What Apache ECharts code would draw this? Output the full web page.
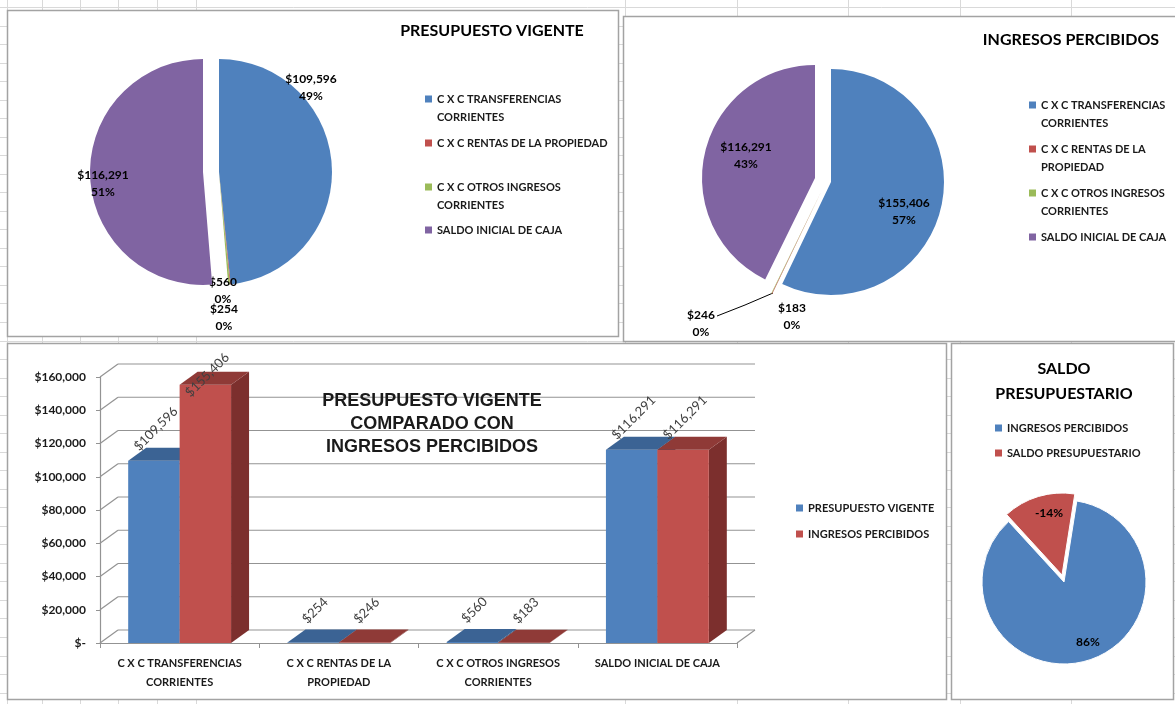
<!DOCTYPE html>
<html><head><meta charset="utf-8">
<script src="https://cdn.jsdelivr.net/npm/echarts@6/dist/echarts.min.js"></script>
<style>html,body{margin:0;padding:0;background:#fff;}#c{width:1175px;height:704px;}</style>
</head><body><div id="c"></div>
<script>
// ---------- DATA ----------
const categories = ['C X C TRANSFERENCIAS CORRIENTES', 'C X C RENTAS DE LA PROPIEDAD', 'C X C OTROS INGRESOS CORRIENTES', 'SALDO INICIAL DE CAJA'];
const categoryLabels = ['C X C TRANSFERENCIAS\nCORRIENTES', 'C X C RENTAS DE LA\nPROPIEDAD', 'C X C OTROS INGRESOS\nCORRIENTES', 'SALDO INICIAL DE CAJA'];
const legendLabelsPie1 = ['C X C TRANSFERENCIAS\nCORRIENTES', 'C X C RENTAS DE LA PROPIEDAD', 'C X C OTROS INGRESOS\nCORRIENTES', 'SALDO INICIAL DE CAJA'];
const legendLabelsPie2 = ['C X C TRANSFERENCIAS\nCORRIENTES', 'C X C RENTAS DE LA\nPROPIEDAD', 'C X C OTROS INGRESOS\nCORRIENTES', 'SALDO INICIAL DE CAJA'];
const presupuestoVigente = [109596, 254, 560, 116291];
const ingresosPercibidos = [155406, 246, 183, 116291];
const saldoNames = ['INGRESOS PERCIBIDOS', 'SALDO PRESUPUESTARIO'];
const saldoValues = [272126, -45425];
const barSeriesNames = ['PRESUPUESTO VIGENTE', 'INGRESOS PERCIBIDOS'];
const yTicks = [0, 20000, 40000, 60000, 80000, 100000, 120000, 140000, 160000];

// ---------- STYLE ----------
const F = "Lato,'Liberation Sans Narrow','DejaVu Sans Condensed',sans-serif";
const FA = "'Liberation Sans',Arial,sans-serif";
const FL = "Lato,'Open Sans',sans-serif";
const PIE_COLORS = ['#4F81BD', '#C0504D', '#9BBB59', '#8064A2'];
const BLUE = {front: '#4F81BD', top: '#3B6394', side: '#2E4E75'};
const RED = {front: '#C0504D', top: '#8F3A37', side: '#7C2F2D'};
const GRID = '#939393';
const DX = 18, DY = -13, BARW = 0.323;
const TXT = '#1a1a1a';
const fmt = v => Math.abs(v).toLocaleString('en-US');

const pie1LabelPos = [[311, 88], [224, 318], [223, 291], [103, 184]];
const pie2LabelPos = [[904, 212], [701, 324], [792, 317], [746, 156]];
const pie4LabelPos = [[1088, 642], [1049, 513]];

const chart = echarts.init(document.getElementById('c'));

// sheet background
const bg = [];
[7, 42, 80, 118, 157, 196, 625, 737, 848, 960, 1071].forEach(x => bg.push({type: 'line', z: -20, silent: true, shape: {x1: x + 0.5, y1: 0, x2: x + 0.5, y2: 704}, style: {stroke: '#d9d9d9', lineWidth: 1}}));
for (let k = 0; k < 40; k++) { const y = Math.round(7 + 18.53 * k) + 0.5; bg.push({type: 'line', z: -20, silent: true, shape: {x1: 0, y1: y, x2: 1175, y2: y}, style: {stroke: '#d9d9d9', lineWidth: 1}}); }
const panels = [[7, 10, 611, 326], [623, 16, 560, 325], [7, 343, 939, 356], [951, 343, 222, 356]];
panels.forEach(p => bg.push({type: 'rect', z: -10, silent: true, shape: {x: p[0] + 0.5, y: p[1] + 0.5, width: p[2], height: p[3]}, style: {fill: '#fff', stroke: '#a3a3a3', lineWidth: 1.5}}));

function legendItem(name, label, left, top, twoLine, color) {
  return {
    data: [{name: name, itemStyle: {color: color}}], left: left, top: top, orient: 'vertical', padding: 0,
    itemWidth: 7, itemHeight: twoLine ? 25 : 7,
    icon: twoLine ? 'path://M0,0L7,0L7,7L0,7ZM0,25' : 'rect',
    formatter: () => label,
    selectedMode: false,
    textStyle: {fontFamily: F, fontWeight: 'bold', fontSize: 11, lineHeight: 18, color: TXT}
  };
}
const legends = [];
const p1Tops = [90, 134, 178, 221];
const p2Tops = [96, 140, 184, 228];
categories.forEach((c, i) => {
  legends.push(legendItem(c, legendLabelsPie1[i], 425, p1Tops[i], legendLabelsPie1[i].indexOf('\n') >= 0, PIE_COLORS[i]));
  legends.push(legendItem(c, legendLabelsPie2[i], 1029, p2Tops[i], legendLabelsPie2[i].indexOf('\n') >= 0, PIE_COLORS[i]));
});
legends.push(legendItem(barSeriesNames[0], barSeriesNames[0], 796, 499, false, BLUE.front));
legends.push(legendItem(barSeriesNames[1], barSeriesNames[1], 796, 525, false, RED.front));
legends.push(legendItem(saldoNames[0], saldoNames[0], 995, 419, false, PIE_COLORS[0]));
legends.push(legendItem(saldoNames[1], saldoNames[1], 995, 444, false, PIE_COLORS[1]));

const pieLabelStyle = {show: true, position: 'outside', color: '#000', fontFamily: F, fontWeight: 'bold', fontSize: 12, lineHeight: 17};

// an exploded pie = one pie series per offset group, each holding all values (same totals),
// with the slices of other groups left transparent
function explodedPie(cfg) {
  return cfg.groups.map((g, gi) => ({
    type: 'pie', name: cfg.name + '_' + gi,
    center: [cfg.center[0] + g.off[0], cfg.center[1] + g.off[1]],
    radius: cfg.radius, startAngle: cfg.startAngle, clockwise: true,
    percentPrecision: 0, avoidLabelOverlap: false, emphasis: {scale: false, disabled: true},
    z: 2 + gi,
    data: cfg.names.map((n, i) => {
      const on = g.idx.indexOf(i) >= 0;
      return {
        name: n, value: cfg.values[i],
        itemStyle: on ? Object.assign({color: cfg.colors[i]}, cfg.itemStyle || {}) : {color: 'transparent', borderWidth: 0},
        label: {show: on},
        labelLine: (on && cfg.lineIdx === i) ? {show: true, lineStyle: {color: '#000', width: 1}} : {show: false}
      };
    }),
    label: Object.assign({}, pieLabelStyle, {formatter: cfg.formatter}),
    labelLine: {show: false},
    labelLayout: p => {
      const r = {x: cfg.labelPos[p.dataIndex][0], y: cfg.labelPos[p.dataIndex][1], align: 'center', verticalAlign: 'middle'};
      if (cfg.lineIdx === p.dataIndex && cfg.linePoints) r.labelLinePoints = cfg.linePoints;
      return r;
    }
  }));
}
const moneyPct = p => '$' + fmt(p.value) + '\n' + p.percent + '%';

function bar3d(si, col) {
  return function (params, api) {
    const c = api.value(0), v = api.value(1);
    const b = api.coord([c, 0]), t = api.coord([c, v]);
    const band = api.size([1, 0])[0];
    const w = band * BARW;
    const x0 = b[0] - (si === 0 ? w : 0);
    const y0 = b[1], y1 = t[1];
    const yLim = api.coord([0, yTicks[yTicks.length - 1]])[1] - 2;
    const cx = x0 + w / 2 + 2, cy = Math.max(y1 - 32, yLim);
    return {type: 'group', children: [
      {type: 'polygon', shape: {points: [[x0 + w, y1], [x0 + w + DX, y1 + DY], [x0 + w + DX, y0 + DY], [x0 + w, y0]]}, style: {fill: col.side}},
      {type: 'rect', shape: {x: x0, y: y1, width: w, height: y0 - y1}, style: {fill: col.front}},
      {type: 'polygon', shape: {points: [[x0, y1], [x0 + w, y1], [x0 + w + DX, y1 + DY], [x0 + DX, y1 + DY]]}, style: {fill: col.top}},
      {type: 'text', x: cx, y: cy, rotation: Math.PI / 4, style: {text: '$' + fmt(v), fill: '#404040', fontSize: 13, fontFamily: FL, align: 'center', verticalAlign: 'middle'}}
    ]};
  };
}

const series = [
  {
    type: 'custom', name: 'frame', z: 1, silent: true, xAxisIndex: 0, yAxisIndex: 0,
    data: yTicks.map(t => [0, t]), encode: {x: 0, y: 1},
    renderItem: function (params, api) {
      const cs = params.coordSys;
      const y = api.coord([0, api.value(1)])[1];
      const ls = {stroke: GRID, lineWidth: 1.2};
      const ch = [
        {type: 'line', shape: {x1: cs.x, y1: y, x2: cs.x + DX, y2: y + DY}, style: ls},
        {type: 'line', shape: {x1: cs.x + DX, y1: y + DY, x2: cs.x + cs.width + DX, y2: y + DY}, style: ls}
      ];
      if (api.value(1) === 0) ch.push({type: 'line', shape: {x1: cs.x + cs.width, y1: y, x2: cs.x + cs.width + DX, y2: y + DY}, style: ls});
      return {type: 'group', children: ch};
    }
  },
  {
    type: 'custom', name: barSeriesNames[0], z: 2, xAxisIndex: 0, yAxisIndex: 0,
    itemStyle: {color: BLUE.front},
    data: presupuestoVigente.map((v, i) => [i, v]), encode: {x: 0, y: 1},
    renderItem: bar3d(0, BLUE)
  },
  {
    type: 'custom', name: barSeriesNames[1], z: 3, xAxisIndex: 0, yAxisIndex: 0,
    itemStyle: {color: RED.front},
    data: ingresosPercibidos.map((v, i) => [i, v]), encode: {x: 0, y: 1},
    renderItem: bar3d(1, RED)
  }
].concat(
  explodedPie({name: 'pie1', center: [219, 172], radius: 113, startAngle: 90, names: categories, values: presupuestoVigente,
    colors: PIE_COLORS, groups: [{idx: [0, 1, 2], off: [0, 0]}, {idx: [3], off: [-16, 0]}],
    labelPos: pie1LabelPos, formatter: moneyPct}),
  explodedPie({name: 'pie2', center: [831, 182], radius: 113, startAngle: 90, names: categories, values: ingresosPercibidos,
    colors: PIE_COLORS, groups: [{idx: [0], off: [0, 0]}, {idx: [1, 2], off: [-10, 10]}, {idx: [3], off: [-16, -4]}],
    labelPos: pie2LabelPos, formatter: moneyPct, lineIdx: 1, linePoints: [[773, 293], [745, 305], [717, 316]]}),
  explodedPie({name: 'pie4', center: [1064, 582], radius: 82, startAngle: 81, names: saldoNames, values: saldoValues.map(Math.abs),
    colors: [PIE_COLORS[0], PIE_COLORS[1]], itemStyle: {borderColor: '#fff', borderWidth: 1},
    groups: [{idx: [0], off: [0, 0]}, {idx: [1], off: [-2, -7]}],
    labelPos: pie4LabelPos, formatter: p => (saldoValues[p.dataIndex] < 0 ? '-' : '') + p.percent + '%'})
);

const option = {
  animation: false,
  backgroundColor: 'transparent',
  graphic: {elements: bg},
  title: [
    {text: 'PRESUPUESTO VIGENTE', left: 492, top: 21, textAlign: 'center', padding: 0, textStyle: {fontFamily: F, fontWeight: 'bold', fontSize: 16, lineHeight: 20, color: '#000'}},
    {text: 'INGRESOS PERCIBIDOS', left: 1071, top: 30, textAlign: 'center', padding: 0, textStyle: {fontFamily: F, fontWeight: 'bold', fontSize: 16, lineHeight: 20, color: '#000'}},
    {text: 'PRESUPUESTO VIGENTE\nCOMPARADO CON\nINGRESOS PERCIBIDOS', left: 432, top: 390, textAlign: 'center', padding: 0, textStyle: {fontFamily: FA, fontWeight: 'bold', fontSize: 18, lineHeight: 23, color: '#1a1a1a'}},
    {text: 'SALDO\nPRESUPUESTARIO', left: 1064, top: 356, textAlign: 'center', padding: 0, textStyle: {fontFamily: F, fontWeight: 'bold', fontSize: 16, lineHeight: 25, color: '#000'}}
  ],
  legend: legends,
  grid: [{left: 100, right: 438, top: 377, bottom: 61}],
  xAxis: [{
    type: 'category', data: categories, boundaryGap: true,
    axisLine: {show: true, lineStyle: {color: GRID, width: 1.2}},
    axisTick: {show: true, length: 5, interval: 0, lineStyle: {color: GRID}},
    axisLabel: {interval: 0, margin: 11, formatter: (v, i) => categoryLabels[i], fontFamily: F, fontWeight: 'bold', fontSize: 11, lineHeight: 19, color: TXT},
    splitLine: {show: false}
  }],
  yAxis: [{
    type: 'value', min: 0, max: 160000, interval: 20000,
    axisLine: {show: true, lineStyle: {color: GRID, width: 1.2}},
    axisTick: {show: true, length: 4, lineStyle: {color: GRID}},
    axisLabel: {margin: 14, formatter: v => v === 0 ? '$-' : '$' + fmt(v), fontFamily: F, fontWeight: 'bold', fontSize: 12, color: TXT},
    splitLine: {show: false}
  }],
  series: series
};
chart.setOption(option);
</script>
</body></html>
